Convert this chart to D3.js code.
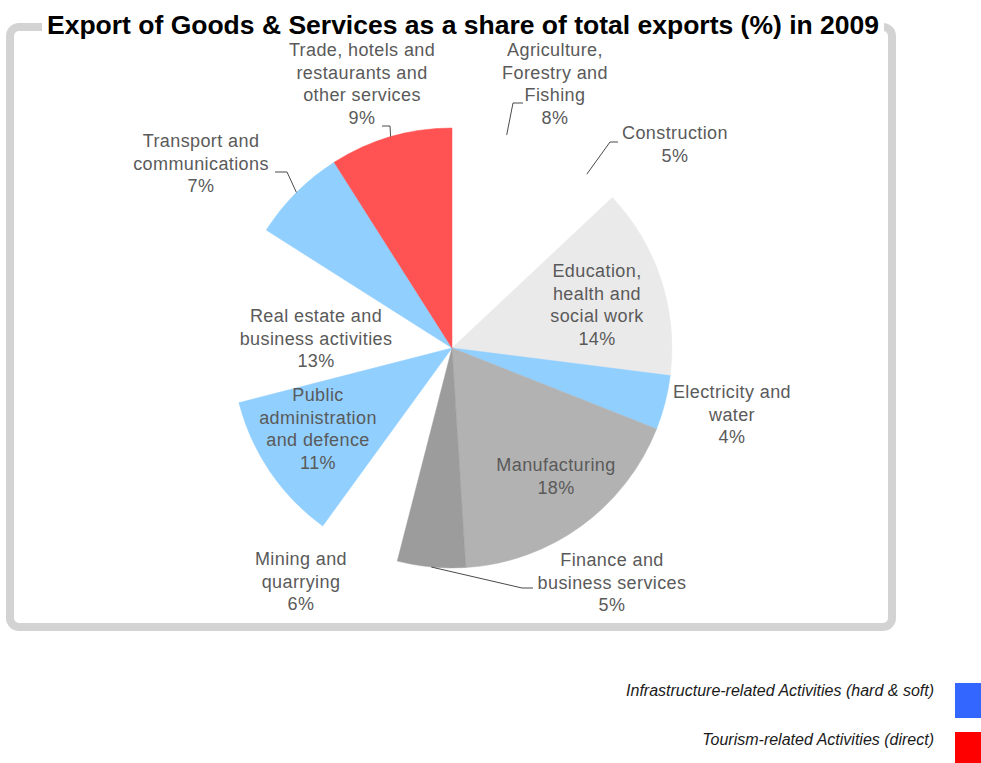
<!DOCTYPE html>
<html>
<head>
<meta charset="utf-8">
<script src="https://cdn.jsdelivr.net/npm/d3@7"></script>
<style>
  html, body { margin: 0; padding: 0; background: #fff; }
  svg { display: block; }
</style>
</head>
<body>
<div id="chart"></div>
<script>
// Sectors in clockwise order from 12 o'clock
const categories = [
  "Agriculture, Forestry and Fishing",
  "Construction",
  "Education, health and social work",
  "Electricity and water",
  "Manufacturing",
  "Finance and business services",
  "Mining and quarrying",
  "Public administration and defence",
  "Real estate and business activities",
  "Transport and communications",
  "Trade, hotels and restaurants and other services"
];
const shares = [8, 5, 14, 4, 18, 5, 6, 11, 13, 7, 9];
const labelLines = [
  ["Agriculture,", "Forestry and", "Fishing"],
  ["Construction"],
  ["Education,", "health and", "social work"],
  ["Electricity and", "water"],
  ["Manufacturing"],
  ["Finance and", "business services"],
  ["Mining and", "quarrying"],
  ["Public", "administration", "and defence"],
  ["Real estate and", "business activities"],
  ["Transport and", "communications"],
  ["Trade, hotels and", "restaurants and", "other services"]
];
const legendLabels = [
  "Infrastructure-related Activities (hard & soft)",
  "Tourism-related Activities (direct)"
];
const titleText = "Export of Goods & Services as a share of total exports (%) in 2009";

// Styling: sector fills (null = left unfilled)
const fills = {
  "Agriculture, Forestry and Fishing": null,
  "Construction": null,
  "Education, health and social work": "#eaeaea",
  "Electricity and water": "#91cfff",
  "Manufacturing": "#b2b2b2",
  "Finance and business services": "#9c9c9c",
  "Mining and quarrying": null,
  "Public administration and defence": "#91cfff",
  "Real estate and business activities": null,
  "Transport and communications": "#91cfff",
  "Trade, hotels and restaurants and other services": "#ff5252"
};
const legendColors = ["#3366ff", "#ff0000"];

// Label placement relative to the pie centre: block centre x, first baseline y,
// and optional leader bend / end points.
const labelLayout = [
  { x: 103, y: -292, bend: [61, -245], end: [71, -245] },
  { x: 223, y: -209, bend: [158, -206], end: [166, -206] },
  { x: 145, y: -71 },
  { x: 280, y: 50 },
  { x: 104, y: 123 },
  { x: 160, y: 218, bend: [70, 240], end: [81, 240] },
  { x: -151, y: 217 },
  { x: -134, y: 53 },
  { x: -136, y: -26 },
  { x: -251, y: -201, bend: [-165, -176], end: [-177, -176] },
  { x: -90, y: -292, bend: [-62, -222], end: [-70, -222] }
];

const W = 981, H = 763;
const cx = 452, cy = 348, R = 220;
const lineH = 22.7;

const svg = d3.select("#chart").append("svg")
  .attr("width", W).attr("height", H)
  .style("background", "#fff");

// Chart frame
svg.append("rect")
  .attr("x", 10).attr("y", 27)
  .attr("width", 882).attr("height", 600)
  .attr("rx", 9).attr("ry", 9)
  .attr("fill", "#fff")
  .attr("stroke", "#d3d3d3")
  .attr("stroke-width", 8);

// Title with a white backing over the frame edge
svg.append("rect")
  .attr("x", 42).attr("y", 16).attr("width", 842).attr("height", 20)
  .attr("fill", "#fff");
svg.append("text")
  .attr("x", 463).attr("y", 34)
  .attr("text-anchor", "middle")
  .attr("font-family", "'Liberation Sans', Arial, sans-serif")
  .attr("font-weight", "bold")
  .attr("font-size", 26.5)
  .attr("fill", "#000")
  .text(titleText);

const data = categories.map((c, i) => ({ category: c, value: shares[i], lines: labelLines[i], layout: labelLayout[i] }));

const pie = d3.pie().sort(null).value(d => d.value).startAngle(0).endAngle(2 * Math.PI);
const arcs = pie(data);
const arc = d3.arc().innerRadius(0).outerRadius(R);
const edgeArc = d3.arc().innerRadius(R).outerRadius(R);

const g = svg.append("g").attr("transform", `translate(${cx},${cy})`);

g.selectAll("path.slice")
  .data(arcs.filter(a => fills[a.data.category]))
  .join("path")
  .attr("class", "slice")
  .attr("d", arc)
  .attr("fill", a => fills[a.data.category])
  .attr("stroke", a => fills[a.data.category])
  .attr("stroke-width", 0.5);

// Leader lines from the slice edge to the label
const line = d3.line();
g.selectAll("path.leader")
  .data(arcs.filter(a => a.data.layout.bend))
  .join("path")
  .attr("class", "leader")
  .attr("d", a => line([edgeArc.centroid(a), a.data.layout.bend, a.data.layout.end]))
  .attr("fill", "none")
  .attr("stroke", "#4a4a4a")
  .attr("stroke-width", 1);

// Labels
const labels = g.selectAll("text.label")
  .data(arcs)
  .join("text")
  .attr("class", "label")
  .attr("text-anchor", "middle")
  .attr("font-family", "'Liberation Sans', Arial, sans-serif")
  .attr("font-size", 18)
  .attr("letter-spacing", 0.4)
  .attr("fill", "#5a5a5a");

labels.each(function(a) {
  const t = d3.select(this);
  const L = a.data.layout;
  const rows = a.data.lines.concat([a.data.value + "%"]);
  rows.forEach((s, i) => {
    t.append("tspan")
      .attr("x", L.x)
      .attr("y", L.y + i * lineH)
      .text(s);
  });
});

// Legend
const legend = svg.append("g");
legendLabels.forEach((lab, i) => {
  const y0 = 683 + i * 49;
  legend.append("rect")
    .attr("x", 955).attr("y", y0)
    .attr("width", 30).attr("height", 35)
    .attr("fill", legendColors[i]);
  legend.append("text")
    .attr("x", 934).attr("y", y0 + 13)
    .attr("text-anchor", "end")
    .attr("font-family", "'Liberation Sans', Arial, sans-serif")
    .attr("font-style", "italic")
    .attr("font-size", 16)
    .attr("fill", "#1a1a1a")
    .text(lab);
});
</script>
</body>
</html>
